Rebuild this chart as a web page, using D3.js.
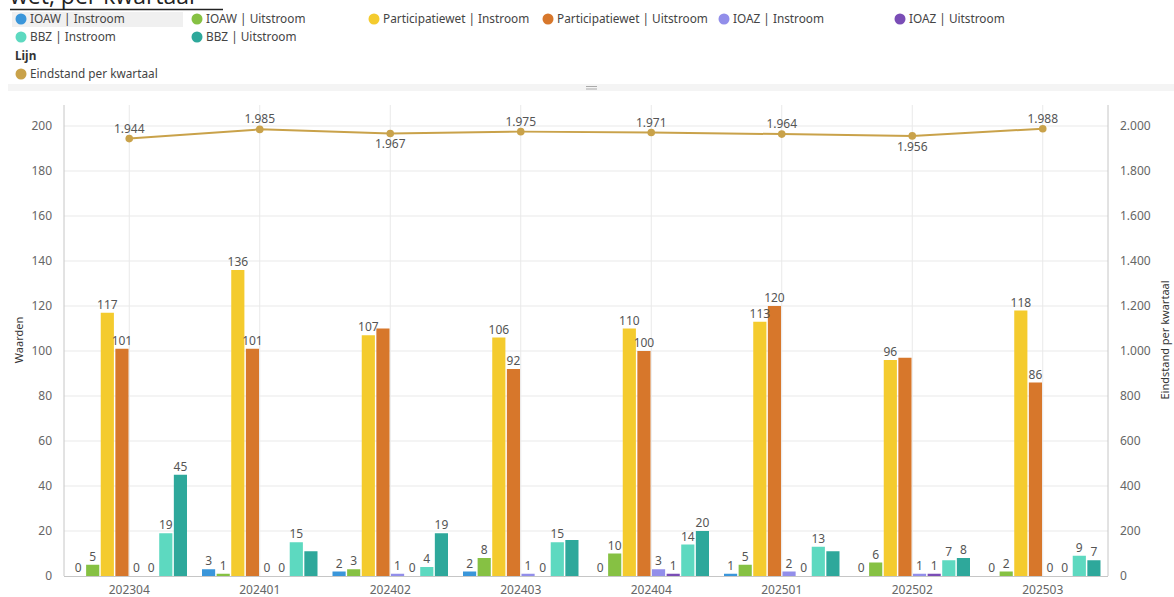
<!DOCTYPE html>
<html><head><meta charset="utf-8">
<script src="https://cdn.jsdelivr.net/npm/d3@7"></script>
<style>
body{margin:0;background:#fff;}
svg{display:block;font-family:"Noto Sans",sans-serif;}
</style></head>
<body><svg id="c" width="1174" height="597"></svg>
<script>
const categories = ["202304","202401","202402","202403","202404","202501","202502","202503"];
const seriesNames = ["IOAW | Instroom","IOAW | Uitstroom","Participatiewet | Instroom","Participatiewet | Uitstroom","IOAZ | Instroom","IOAZ | Uitstroom","BBZ | Instroom","BBZ | Uitstroom"];
const seriesColors = ["#3A96DA","#86C143","#F4CB2E","#D7772B","#928EEA","#7A4DB6","#5DD9C0","#2EA89B"];
const ioawIn   = [0,3,2,2,0,1,0,0];
const ioawOut  = [5,1,3,8,10,5,6,2];
const pwIn     = [117,136,107,106,110,113,96,118];
const pwOut    = [101,101,110,92,100,120,97,86];
const ioazIn   = [0,0,1,1,3,2,1,0];
const ioazOut  = [0,0,0,0,1,0,1,0];
const bbzIn    = [19,15,4,15,14,13,7,9];
const bbzOut   = [45,11,19,16,20,11,8,7];
const eindstand = [1944,1985,1967,1975,1971,1964,1956,1988];
const lineLabelBelow = [false,false,true,false,false,false,true,false];
const hiddenLabels = ["202401|BBZ | Uitstroom","202402|Participatiewet | Uitstroom","202403|BBZ | Uitstroom","202501|BBZ | Uitstroom","202502|Participatiewet | Uitstroom"];
const leftTicks = [0,20,40,60,80,100,120,140,160,180,200];
const rightTicks = [0,200,400,600,800,1000,1200,1400,1600,1800,2000];
const lineName = "Eindstand per kwartaal";

const seriesValues = [ioawIn,ioawOut,pwIn,pwOut,ioazIn,ioazOut,bbzIn,bbzOut];

const svg = d3.select("#c");
const L = 64, R = 1108, T = 105, B = 576;
const nl = v => d3.format(",")(v).replace(/,/g,".");

// title (clipped by the top edge, as in the reference)
svg.append("text").attr("x",10).attr("y",4).attr("font-size",23).attr("fill","#222")
  .attr("font-family","'Open Sans',sans-serif").text("wet, per kwartaal");
svg.append("line").attr("x1",10).attr("x2",223).attr("y1",9.5).attr("y2",9.5).attr("stroke","#222").attr("stroke-width",1.5);

// legend
svg.append("rect").attr("x",12).attr("y",12).attr("width",171).attr("height",15).attr("fill","#f0f0f0");
const legPos = [[21,19],[197,19],[374,19],[548,19],[724,19],[900,19],[21,37],[197,37]];
const lg = svg.append("g").attr("font-size",11.8).attr("fill","#444");
seriesNames.forEach((s,i)=>{
  const [cx,cy] = legPos[i];
  lg.append("circle").attr("cx",cx).attr("cy",cy).attr("r",5.5).attr("fill",seriesColors[i]);
  lg.append("text").attr("x",cx+9).attr("y",cy+4).text(s);
});
lg.append("text").attr("x",15).attr("y",60).attr("font-weight","bold").attr("fill","#333").text("Lijn");
lg.append("circle").attr("cx",21).attr("cy",74).attr("r",5.5).attr("fill","#C9A24A");
lg.append("text").attr("x",30).attr("y",78).text(lineName);

// separator bar
svg.append("rect").attr("x",8).attr("y",84).attr("width",1166).attr("height",7).attr("fill","#f4f4f4");
svg.append("line").attr("x1",586).attr("x2",597).attr("y1",86.5).attr("y2",86.5).attr("stroke","#aaa");
svg.append("line").attr("x1",586).attr("x2",597).attr("y1",89).attr("y2",89).attr("stroke","#aaa");

// scales
const x0 = d3.scaleBand().domain(categories).range([L,R]).padding(0);
const x1 = d3.scaleBand().domain(seriesNames).range([7.5, x0.bandwidth()-7.5]).paddingInner(0.1);
const y = d3.scaleLinear().domain([0,200]).range([B,126]);
const y2 = d3.scaleLinear().domain([0,2000]).range([B,126]);

// grid
const g = svg.append("g");
g.selectAll(".hg").data(leftTicks.slice(1)).join("line")
  .attr("x1",L).attr("x2",R).attr("y1",d=>y(d)).attr("y2",d=>y(d)).attr("stroke","#e9e9e9");
g.selectAll(".vg").data(categories).join("line")
  .attr("x1",d=>x0(d)+x0.bandwidth()/2).attr("x2",d=>x0(d)+x0.bandwidth()/2)
  .attr("y1",T).attr("y2",B).attr("stroke","#e9e9e9");

// axes
const axL = svg.append("g").attr("transform",`translate(${L},0)`)
  .call(d3.axisLeft(y).tickValues(leftTicks).tickSize(0).tickPadding(12));
axL.select(".domain").remove();
svg.append("line").attr("x1",L).attr("x2",L).attr("y1",T).attr("y2",B).attr("stroke","#c6c6c6");
const axR = svg.append("g").attr("transform",`translate(${R},0)`)
  .call(d3.axisRight(y2).tickValues(rightTicks).tickSize(0).tickPadding(12).tickFormat(nl));
axR.select(".domain").remove();
svg.append("line").attr("x1",R).attr("x2",R).attr("y1",T).attr("y2",B).attr("stroke","#c6c6c6");
const axB = svg.append("g").attr("transform",`translate(0,${B})`)
  .call(d3.axisBottom(x0).tickSize(0).tickPadding(9));
axB.select(".domain").remove();
[axL,axR,axB].forEach(a=>a.selectAll("text").attr("font-size",12).attr("fill","#666").attr("font-family","'Noto Sans',sans-serif"));

svg.append("text").attr("transform",`translate(23,340) rotate(-90)`).attr("text-anchor","middle")
  .attr("font-size",11).attr("fill","#333").text("Waarden");
svg.append("text").attr("transform",`translate(1169,340) rotate(-90)`).attr("text-anchor","middle")
  .attr("font-size",11).attr("fill","#333").text(lineName);

// bars
const data = [];
categories.forEach((c,ci)=>seriesNames.forEach((s,si)=>data.push({c,s,si,v:seriesValues[si][ci]})));
const bars = svg.append("g");
bars.selectAll("rect").data(data).join("rect")
  .attr("x",d=>x0(d.c)+x1(d.s)).attr("width",x1.bandwidth())
  .attr("y",d=>Math.min(y(d.v), B-1.5)).attr("height",d=>d.v===0?0:Math.max(B-y(d.v),1.5))
  .attr("fill",d=>seriesColors[d.si]);
bars.append("line").attr("x1",L).attr("x2",R).attr("y1",B+0.5).attr("y2",B+0.5).attr("stroke","#c6c6c6");
bars.selectAll("text").data(data.filter(d=>!hiddenLabels.includes(d.c+"|"+d.s))).join("text")
  .attr("x",d=>x0(d.c)+x1(d.s)+x1.bandwidth()/2).attr("y",d=>y(d.v)-4)
  .attr("text-anchor","middle").attr("font-size",12).attr("fill","#555").text(d=>d.v);

// line
const lineG = svg.append("g");
const cx = c => x0(c)+x0.bandwidth()/2;
lineG.append("path").datum(eindstand)
  .attr("d",d3.line().x((d,i)=>cx(categories[i])).y(d=>y2(d)))
  .attr("fill","none").attr("stroke","#C9A24A").attr("stroke-width",2);
lineG.selectAll("circle").data(eindstand).join("circle")
  .attr("cx",(d,i)=>cx(categories[i])).attr("cy",d=>y2(d)).attr("r",3.8).attr("fill","#C9A24A");
lineG.selectAll("text").data(eindstand).join("text")
  .attr("x",(d,i)=>cx(categories[i])).attr("y",(d,i)=>lineLabelBelow[i]?y2(d)+15:y2(d)-6)
  .attr("text-anchor","middle").attr("font-size",12).attr("fill","#555").text(nl);
</script></body></html>
